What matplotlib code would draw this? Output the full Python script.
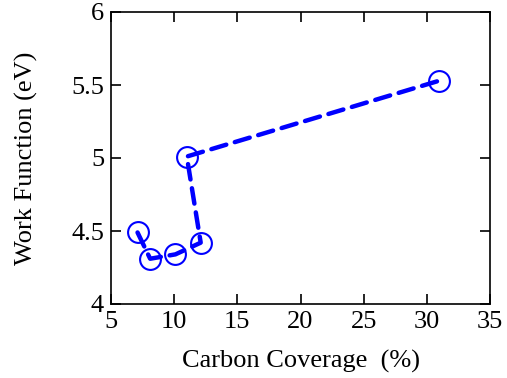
import matplotlib
matplotlib.use('Agg')
import matplotlib.pyplot as plt

coverage = [7.1, 8.1, 10.1, 12.1, 11.0, 31.0]
work_function = [4.49, 4.31, 4.34, 4.42, 5.01, 5.53]

plt.rcParams['font.family'] = ['Liberation Serif', 'DejaVu Serif']

fig = plt.figure(figsize=(5.07, 3.78), dpi=100)
ax = fig.add_axes([111/507, 1-304/378, (490-111)/507, (304-12)/378])

ax.plot(coverage, work_function, color='#0000ff', linestyle=(0, (3.5, 2)), linewidth=3.2,
        dash_capstyle='round')
ax.plot(coverage, work_function, linestyle='none', marker='o', markersize=15,
        markerfacecolor='none', markeredgecolor='#0000ff', markeredgewidth=1.5)

ax.set_xlim(5, 35)
ax.set_ylim(4, 6)
ax.set_xticks(range(5, 36, 5))
ax.set_yticks([4, 4.5, 5, 5.5, 6])
ax.set_yticklabels(['4', '4.5', '5', '5.5', '6'])
ax.tick_params(direction='in', top=True, right=True, length=7, width=1.2,
               labelsize=19, pad=5)
for s in ax.spines.values():
    s.set_linewidth(1.2)
ax.set_xlabel('Carbon Coverage  (%)', fontsize=19, labelpad=12)
ax.set_ylabel('Work Function (eV)', fontsize=19, labelpad=24)

fig.savefig('out.png', dpi=100)
